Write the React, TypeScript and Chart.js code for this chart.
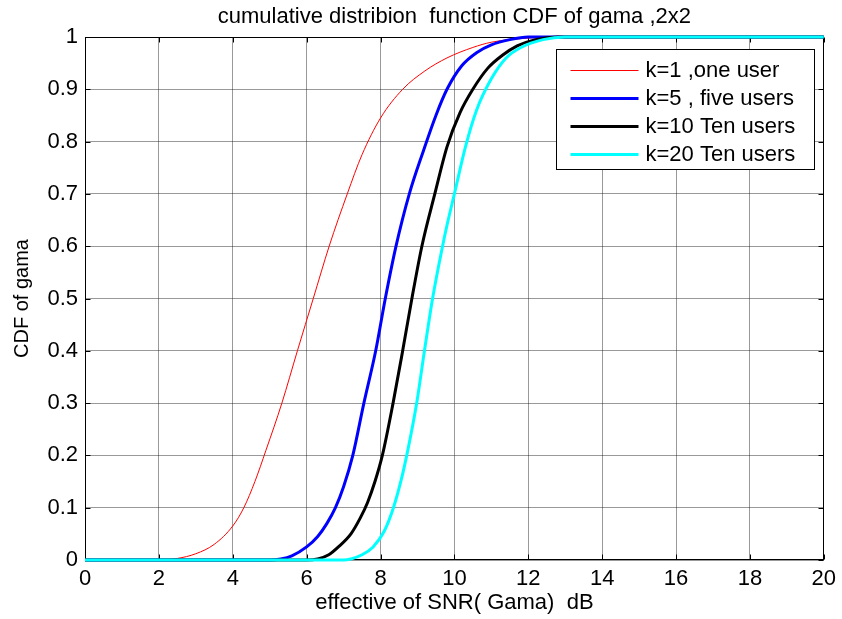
import React, { useEffect, useRef } from "react";
import { Chart, registerables } from "chart.js";

Chart.register(...registerables);

const titleText = "cumulative distribion  function CDF of gama ,2x2";
const xAxisTitle = "effective of SNR( Gama)  dB";
const yAxisTitle = "CDF of gama";

const xTickValues = [0, 2, 4, 6, 8, 10, 12, 14, 16, 18, 20];
const xTickLabels = ["0", "2", "4", "6", "8", "10", "12", "14", "16", "18", "20"];
const yTickValues = [0, 0.1, 0.2, 0.3, 0.4, 0.5, 0.6, 0.7, 0.8, 0.9, 1];
const yTickLabels = ["0", "0.1", "0.2", "0.3", "0.4", "0.5", "0.6", "0.7", "0.8", "0.9", "1"];

const seriesLabels = ["k=1 ,one user", "k=5 , five users", "k=10 Ten users", "k=20 Ten users"];

const redX = [0, 2, 2.5, 3, 3.5, 4, 4.3, 4.6, 4.9, 5.33, 5.75, 6.18, 6.61, 7.1, 7.5, 8, 8.6, 9.2, 9.8, 10.5, 11, 12, 13, 20];
const redY = [0, 0, 0.003, 0.012, 0.03, 0.065, 0.1, 0.15, 0.21, 0.3, 0.4, 0.5, 0.6, 0.7, 0.775, 0.845, 0.9, 0.935, 0.96, 0.98, 0.99, 0.998, 1, 1];

const blueX = [0, 5, 5.3, 5.6, 6.0, 6.3, 6.55, 6.78, 7.0, 7.25, 7.55, 7.87, 8.13, 8.42, 8.78, 9.17, 9.5, 9.8, 10.2, 10.6, 11, 11.5, 12, 20];
const blueY = [0, 0, 0.002, 0.008, 0.025, 0.045, 0.07, 0.1, 0.14, 0.2, 0.3, 0.4, 0.5, 0.6, 0.7, 0.784, 0.85, 0.9, 0.945, 0.97, 0.985, 0.995, 1, 1];

const blackX = [0, 6, 6.3, 6.6, 6.86, 7.2, 7.45, 7.65, 7.85, 8.05, 8.34, 8.6, 8.85, 9.12, 9.47, 9.8, 10.15, 10.5, 10.9, 11.3, 11.7, 12.2, 12.8, 20];
const blackY = [0, 0, 0.002, 0.01, 0.025, 0.05, 0.08, 0.11, 0.15, 0.2, 0.3, 0.4, 0.5, 0.6, 0.7, 0.79, 0.855, 0.9, 0.94, 0.965, 0.983, 0.995, 1, 1];

const cyanX = [0, 7, 7.2, 7.5, 7.8, 8.1, 8.35, 8.56, 8.74, 8.98, 9.19, 9.41, 9.68, 9.8, 10.0, 10.3, 10.6, 11.0, 11.4, 11.8, 12.4, 13, 20];
const cyanY = [0, 0, 0.002, 0.01, 0.025, 0.055, 0.1, 0.153, 0.21, 0.3, 0.4, 0.5, 0.6, 0.64, 0.7, 0.79, 0.86, 0.92, 0.96, 0.98, 0.995, 1, 1];

const FONT = "'Liberation Sans', Arial, Helvetica, sans-serif";

function toPoints(xs: number[], ys: number[]) {
  return xs.map((x, i) => ({ x, y: ys[i] }));
}

const decorPlugin = {
  id: "decor",
  beforeDatasetsDraw(chart: any) {
    const { ctx, chartArea: a, scales } = chart;
    ctx.save();
    ctx.strokeStyle = "#000";
    ctx.lineWidth = 1;
    const L = Math.round(a.left) + 0.5;
    const T = Math.round(a.top) + 0.5;
    const R = Math.round(a.right) - 0.5;
    const B = Math.round(a.bottom) - 0.5;
    ctx.strokeRect(L, T, R - L, B - T);
    const tl = 5;
    ctx.beginPath();
    xTickValues.forEach((v) => {
      const px = Math.round(scales.x.getPixelForValue(v)) + 0.5;
      ctx.moveTo(px, B);
      ctx.lineTo(px, B - tl);
      ctx.moveTo(px, T);
      ctx.lineTo(px, T + tl);
    });
    yTickValues.forEach((v) => {
      const py = Math.round(scales.y.getPixelForValue(v)) + 0.5;
      ctx.moveTo(L, py);
      ctx.lineTo(L + tl, py);
      ctx.moveTo(R, py);
      ctx.lineTo(R - tl, py);
    });
    ctx.stroke();
    ctx.fillStyle = "#000";
    ctx.font = `22px ${FONT}`;
    ctx.textAlign = "center";
    ctx.textBaseline = "middle";
    ctx.fillText(titleText, (a.left + a.right) / 2, 17);
    ctx.restore();
  },
  afterDatasetsDraw(chart: any) {
    const { ctx, chartArea: a } = chart;
    ctx.save();
    const w = 258;
    const h = 120;
    const lx = Math.round(a.right) - 268 + 0.5;
    const ly = Math.round(a.top) + 12 + 0.5;
    ctx.fillStyle = "#fff";
    ctx.fillRect(lx, ly, w, h);
    ctx.strokeStyle = "#000";
    ctx.lineWidth = 1;
    ctx.strokeRect(lx, ly, w, h);
    ctx.font = `22px ${FONT}`;
    ctx.textAlign = "left";
    ctx.textBaseline = "middle";
    chart.data.datasets.forEach((ds: any, i: number) => {
      const y = Math.round(ly + 20 + i * 28);
      ctx.strokeStyle = ds.borderColor;
      ctx.lineWidth = ds.borderWidth;
      ctx.beginPath();
      ctx.moveTo(lx + 14, y + (ds.borderWidth % 2 ? 0.5 : 0));
      ctx.lineTo(lx + 82, y + (ds.borderWidth % 2 ? 0.5 : 0));
      ctx.stroke();
      ctx.fillStyle = "#000";
      ctx.fillText(ds.label, lx + 89, y + 1);
    });
    ctx.restore();
  },
};

export default function App() {
  const canvasRef = useRef<HTMLCanvasElement | null>(null);

  useEffect(() => {
    document.body.style.margin = "0";
    const canvas = canvasRef.current;
    if (!canvas) return;
    const chart = new Chart(canvas, {
      type: "scatter",
      data: {
        datasets: [
          { label: seriesLabels[0], data: toPoints(redX, redY), borderColor: "#ff0000", borderWidth: 1, order: 3 },
          { label: seriesLabels[1], data: toPoints(blueX, blueY), borderColor: "#0000ff", borderWidth: 3, order: 2 },
          { label: seriesLabels[2], data: toPoints(blackX, blackY), borderColor: "#000000", borderWidth: 3, order: 1 },
          { label: seriesLabels[3], data: toPoints(cyanX, cyanY), borderColor: "#00ffff", borderWidth: 3, order: 0 },
        ].map((d) => ({
          ...d,
          showLine: true,
          pointRadius: 0,
          pointHoverRadius: 0,
          cubicInterpolationMode: "monotone" as const,
          clip: false as any,
          backgroundColor: d.borderColor,
        })),
      },
      options: {
        responsive: false,
        animation: false,
        events: [],
        layout: { padding: { top: 37, right: 13, left: 0, bottom: 0 } },
        plugins: {
          legend: { display: false },
          title: { display: false },
          tooltip: { enabled: false },
        },
        scales: {
          x: {
            type: "linear",
            min: 0,
            max: 20,
            afterFit: (s: any) => {
              s.height = 59;
            },
            afterBuildTicks: (s: any) => {
              s.ticks = xTickValues.map((v) => ({ value: v }));
            },
            ticks: {
              color: "#000",
              font: { family: FONT, size: 22 },
              padding: 6,
              maxRotation: 0,
              autoSkip: false,
              callback: (v: any) => {
                const i = xTickValues.indexOf(Number(v));
                return i >= 0 ? xTickLabels[i] : "";
              },
            },
            grid: { color: "rgba(0,0,0,0.4)", lineWidth: 1, drawTicks: false },
            border: { display: false },
            title: {
              display: true,
              text: xAxisTitle,
              color: "#000",
              font: { family: FONT, size: 22 },
              padding: { top: 0, bottom: 3 },
            },
          },
          y: {
            type: "linear",
            min: 0,
            max: 1,
            afterFit: (s: any) => {
              s.width = 85;
            },
            afterBuildTicks: (s: any) => {
              s.ticks = yTickValues.map((v) => ({ value: v }));
            },
            ticks: {
              color: "#000",
              font: { family: FONT, size: 22 },
              padding: 7,
              autoSkip: false,
              callback: (v: any) => {
                const i = yTickValues.findIndex((t) => Math.abs(t - Number(v)) < 1e-9);
                return i >= 0 ? yTickLabels[i] : "";
              },
            },
            grid: { color: "rgba(0,0,0,0.4)", lineWidth: 1, drawTicks: false },
            border: { display: false },
            title: {
              display: true,
              text: yAxisTitle,
              color: "#000",
              font: { family: FONT, size: 20 },
              padding: { top: 10, bottom: 0 },
            },
          },
        },
      },
      plugins: [decorPlugin],
    });
    return () => chart.destroy();
  }, []);

  return (
    <div style={{ position: "absolute", left: 0, top: 0, width: 842, height: 619, background: "#fff" }}>
      <canvas ref={canvasRef} width={842} height={619} style={{ display: "block" }} />
    </div>
  );
}
